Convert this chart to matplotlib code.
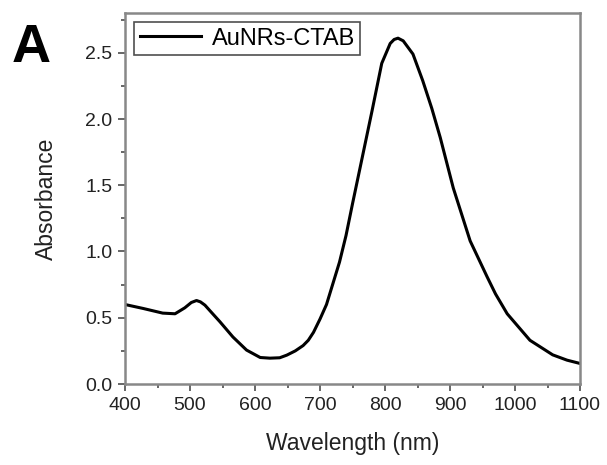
import numpy as np
import matplotlib.pyplot as plt
from matplotlib.ticker import MultipleLocator

plt.rcParams['font.family'] = ['Liberation Sans', 'DejaVu Sans']

# values
wavelength = [400, 428, 458, 477, 492, 502, 510, 516, 523, 534, 546, 566, 587, 608, 623,
              638, 649, 662, 674, 682, 690, 700, 710, 720, 730, 740, 750, 762, 780, 795,
              808, 814, 820, 828, 843, 858, 872, 885, 905, 931, 957, 970, 988, 1023, 1058,
              1080, 1100]
absorbance = [0.60, 0.57, 0.535, 0.53, 0.575, 0.615, 0.63, 0.62, 0.595, 0.535, 0.47, 0.355, 0.256, 0.20, 0.195,
              0.198, 0.218, 0.25, 0.29, 0.33, 0.39, 0.49, 0.60, 0.76, 0.92, 1.12, 1.36, 1.64, 2.06, 2.42,
              2.57, 2.60, 2.61, 2.59, 2.49, 2.29, 2.08, 1.86, 1.48, 1.08, 0.81, 0.68, 0.53, 0.33, 0.22,
              0.18, 0.155]

fig = plt.figure(figsize=(6.07, 4.65), dpi=100)
ax = fig.add_axes([125/607, 81/465, 455/607, 371/465])

ax.plot(wavelength, absorbance, color='black', lw=2.2, label='AuNRs-CTAB')
ax.set_xlim(400, 1100)
ax.set_ylim(0, 2.8)
ax.xaxis.set_major_locator(MultipleLocator(100))
ax.xaxis.set_minor_locator(MultipleLocator(50))
ax.yaxis.set_major_locator(MultipleLocator(0.5))
ax.yaxis.set_minor_locator(MultipleLocator(0.25))
ax.tick_params(which='both', direction='out', top=False, right=False, colors='#666666',
               labelcolor='#222222', labelsize=14, pad=4)
ax.tick_params(which='major', length=5, width=1.4)
ax.tick_params(which='minor', length=3, width=1.4)
for s in ax.spines.values():
    s.set_color('#888888')
    s.set_linewidth(1.8)

ax.set_xlabel('Wavelength (nm)', fontsize=16.5, color='#222222', labelpad=13)
ax.set_ylabel('Absorbance', fontsize=16.5, color='#222222', labelpad=20)

leg = ax.legend(loc='upper left', fontsize=17, frameon=True, fancybox=False,
                handlelength=2.6, borderpad=0.22, borderaxespad=0.4, handletextpad=0.45)
leg.get_frame().set_edgecolor('#222222')
leg.get_frame().set_linewidth(1.2)

fig.text(12/607, 1 - 62/465, 'A', fontsize=39, fontweight='bold', color='black')

fig.savefig('out.png', dpi=100)
